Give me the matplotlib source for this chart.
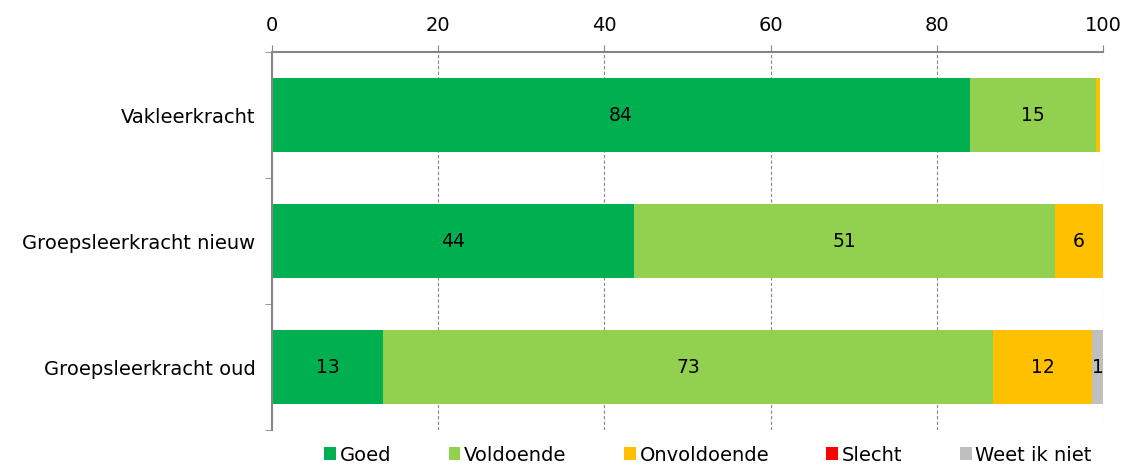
import numpy as np
import matplotlib
matplotlib.use("Agg")
import matplotlib.pyplot as plt

plt.rcParams['font.family'] = ['DejaVu Sans']

categories = ['Vakleerkracht', 'Groepsleerkracht nieuw', 'Groepsleerkracht oud']
series = ['Goed', 'Voldoende', 'Onvoldoende', 'Slecht', 'Weet ik niet']
goed = [84.0, 43.6, 13.4]
voldoende = [15.2, 50.6, 73.4]
onvoldoende = [0.4, 5.8, 11.9]
slecht = [0.0, 0.0, 0.0]
weet_niet = [0.0, 0.0, 1.3]
colors = ['#00B050', '#92D050', '#FFC000', '#FF0000', '#BFBFBF']

values = [goed, voldoende, onvoldoende, slecht, weet_niet]

fig = plt.figure(figsize=(11.27, 4.65), dpi=100)
ax = fig.add_axes([272 / 1127, 1 - 430 / 465, (1103 - 272) / 1127, (430 - 52) / 465])

y = np.arange(len(categories))
left = np.zeros(len(categories))
for name, vals, col in zip(series, values, colors):
    vals = np.array(vals)
    ax.barh(y, vals, left=left, height=0.587, color=col, label=name, zorder=2)
    # value labels, skip segments that round to 0
    for yi, l, v in zip(y, left, vals):
        if round(v) >= 1:
            ax.text(l + v / 2, yi, f"{round(v):.0f}", ha='center', va='center',
                    fontsize=13.5, color='black', zorder=3)
    left += vals

ax.set_xlim(0, 100)
ax.set_ylim(2.5, -0.5)
ax.set_yticks(y)
ax.set_yticklabels(categories, fontsize=14)
ax.set_yticks([-0.5, 0.5, 1.5, 2.5], minor=True)
ax.tick_params(axis='y', which='major', length=0, pad=12)
ax.tick_params(axis='y', which='minor', length=5, color='#868686')

ax.xaxis.tick_top()
ax.set_xticks(np.arange(0, 101, 20))
ax.tick_params(axis='x', labelsize=14, length=5, color='#868686', pad=7)
ax.grid(axis='x', color='#868686', linestyle=(0, (3, 2)), linewidth=0.8, zorder=0)

for s in ['right', 'bottom']:
    ax.spines[s].set_visible(False)
for s in ['left', 'top']:
    ax.spines[s].set_color('#868686')
    ax.spines[s].set_linewidth(1.5)

leg = fig.legend(loc='center', bbox_to_anchor=(708 / 1127, 1 - 455 / 465), ncol=5,
                 frameon=False, fontsize=14, handlelength=0.6, handleheight=0.6,
                 handletextpad=0.2, columnspacing=2.95)

fig.savefig('out.png', dpi=100)
